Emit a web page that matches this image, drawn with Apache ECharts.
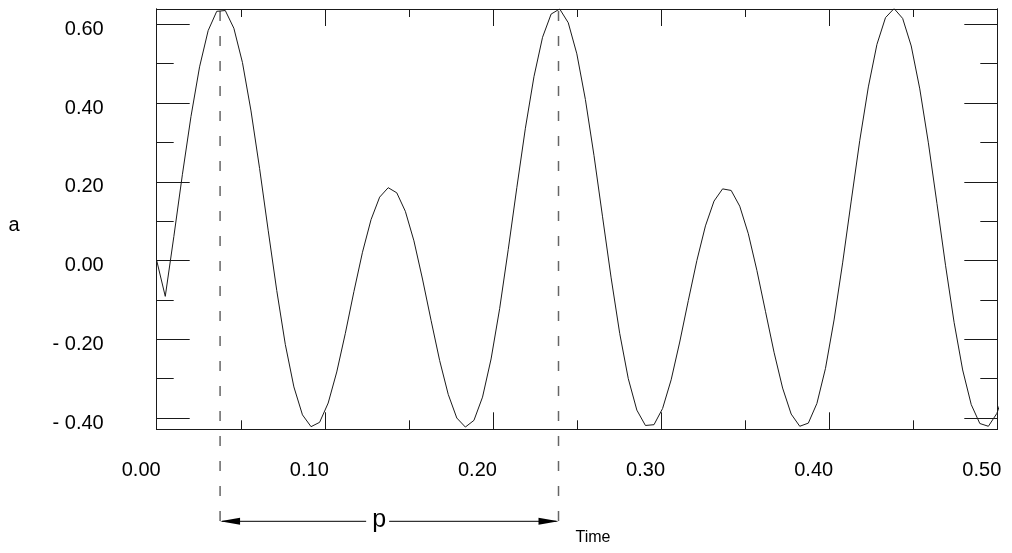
<!DOCTYPE html>
<html>
<head>
<meta charset="utf-8">
<script src="https://cdn.jsdelivr.net/npm/echarts@6/dist/echarts.min.js"></script>
<style>
html,body{margin:0;padding:0;background:#fff;}
#c{width:1012px;height:553px;}
</style>
</head>
<body>
<div id="c"></div>
<script>
// ---- data ----
const times = [
  0.0000,0.0051,0.0102,0.0153,0.0204,0.0255,0.0306,0.0357,0.0408,0.0459,
  0.0510,0.0561,0.0612,0.0663,0.0714,0.0765,0.0816,0.0867,0.0918,0.0969,
  0.1020,0.1071,0.1122,0.1173,0.1224,0.1275,0.1326,0.1377,0.1428,0.1479,
  0.1530,0.1581,0.1632,0.1683,0.1734,0.1785,0.1836,0.1887,0.1938,0.1989,
  0.2040,0.2091,0.2142,0.2193,0.2244,0.2295,0.2346,0.2397,0.2448,0.2499,
  0.2550,0.2601,0.2652,0.2703,0.2754,0.2805,0.2856,0.2907,0.2958,0.3009,
  0.3060,0.3111,0.3162,0.3213,0.3264,0.3315,0.3366,0.3417,0.3468,0.3519,
  0.3570,0.3621,0.3672,0.3723,0.3774,0.3825,0.3876,0.3927,0.3978,0.4029,
  0.4080,0.4131,0.4182,0.4233,0.4284,0.4335,0.4386,0.4437,0.4488,0.4539,
  0.4590,0.4641,0.4692,0.4743,0.4794,0.4845,0.4896,0.4947,0.4998,0.5049,
  0.5100
];
const amplitude = [
  0.000,-0.091,0.061,0.219,0.366,0.492,0.584,0.633,0.635,0.590,
  0.503,0.380,0.234,0.077,-0.076,-0.213,-0.321,-0.392,-0.422,-0.411,
  -0.362,-0.283,-0.185,-0.079,0.021,0.104,0.161,0.185,0.172,0.125,
  0.050,-0.047,-0.152,-0.254,-0.340,-0.400,-0.423,-0.406,-0.347,-0.250,
  -0.122,0.028,0.185,0.336,0.467,0.567,0.626,0.639,0.604,0.525,
  0.409,0.267,0.111,-0.044,-0.185,-0.300,-0.380,-0.419,-0.417,-0.376,
  -0.303,-0.207,-0.102,0.000,0.088,0.151,0.182,0.178,0.138,0.068,
  -0.025,-0.129,-0.233,-0.324,-0.390,-0.421,-0.413,-0.363,-0.274,-0.151,
  -0.006,0.151,0.305,0.441,0.549,0.617,0.640,0.615,0.545,0.436,
  0.299,0.145,-0.012,-0.157,-0.278,-0.366,-0.414,-0.421,-0.388,-0.321,
  -0.229
];
const xMajorTicks = [0, 0.1, 0.2, 0.3, 0.4, 0.5];
const xMinorTicks = [0.05, 0.15, 0.25, 0.35, 0.45];
const yMajorTicks = [-0.4, -0.2, 0, 0.2, 0.4, 0.6];
const yMinorTicks = [-0.3, -0.1, 0.1, 0.3, 0.5];
const xRange = [0, 0.5];
const yRange = [-0.4287, 0.6389];
const periodMarks = [0.0377, 0.2390];   // dashed lines bounding period p
const xTitle = 'Time';
const yTitle = 'a';
const periodLabel = 'p';

// ---- chart ----
const FONT = '"Liberation Sans", Arial, Helvetica, sans-serif';
const INK = '#1a1a1a';
const chart = echarts.init(document.getElementById('c'), null, {renderer: 'canvas'});

function fmt(v) {
  const s = Math.abs(v).toFixed(2);
  return v < -1e-9 ? '- ' + s : s;
}

function xAxisDef(pos, ticks, len, withLabels) {
  return {
    type: 'value', position: pos, min: xRange[0], max: xRange[1],
    axisLine: {show: true, onZero: false, lineStyle: {color: INK, width: 1}},
    axisTick: {show: true, inside: true, length: len, customValues: ticks,
               lineStyle: {color: INK, width: 1}},
    axisLabel: withLabels ? {
      show: true, customValues: ticks, formatter: fmt, color: '#000',
      fontFamily: FONT, fontSize: 20, lineHeight: 20, margin: 31,
      padding: [0, 31, 0, 0]
    } : {show: false},
    splitLine: {show: false}, minorTick: {show: false}
  };
}
function yAxisDef(pos, ticks, len, withLabels) {
  return {
    type: 'value', position: pos, min: yRange[0], max: yRange[1],
    axisLine: {show: true, onZero: false, lineStyle: {color: INK, width: 1}},
    axisTick: {show: true, inside: true, length: len, customValues: ticks,
               lineStyle: {color: INK, width: 1}},
    axisLabel: withLabels ? {
      show: true, customValues: ticks, formatter: fmt, color: '#000',
      fontFamily: FONT, fontSize: 20, lineHeight: 10, verticalAlign: 'top',
      margin: 53
    } : {show: false},
    splitLine: {show: false}, minorTick: {show: false}
  };
}

const xa0 = xAxisDef('bottom', xMajorTicks, 17, true);
xa0.name = xTitle;
xa0.nameLocation = 'middle';
xa0.nameGap = 100;
xa0.nameTextStyle = {fontFamily: FONT, fontSize: 16, color: '#000', padding: [0, 0, 0, 32]};

const ya0 = yAxisDef('left', yMajorTicks, 33, true);
ya0.name = yTitle;
ya0.nameLocation = 'middle';
ya0.nameRotate = 0;
ya0.nameGap = 137;
ya0.nameTextStyle = {fontFamily: FONT, fontSize: 20, color: '#000', verticalAlign: 'top', lineHeight: 12};

chart.setOption({
  animation: false,
  backgroundColor: '#fff',
  grid: {left: 156.7, right: 14.7, top: 9, bottom: 123.7, containLabel: false, outerBoundsMode: 'none'},
  xAxis: [
    xa0,
    xAxisDef('bottom', xMinorTicks, 9, false),
    xAxisDef('top', xMajorTicks, 17, false),
    xAxisDef('top', xMinorTicks, 8, false)
  ],
  yAxis: [
    ya0,
    yAxisDef('left', yMinorTicks, 17, false),
    yAxisDef('right', yMajorTicks, 33, false),
    yAxisDef('right', yMinorTicks, 17, false)
  ],
  series: [{
    type: 'line', xAxisIndex: 0, yAxisIndex: 0,
    data: times.map((t, i) => [t, amplitude[i]]),
    symbol: 'none', showSymbol: false, clip: true,
    lineStyle: {color: INK, width: 1}
  }]
});

// ---- period annotation, positioned through the axes ----
const px = t => chart.convertToPixel({xAxisIndex: 0}, t);
const py = v => chart.convertToPixel({yAxisIndex: 0}, v);
const yTop = py(yRange[1]);
const yBot = py(yRange[0]);
const xA = px(periodMarks[0]);
const xB = px(periodMarks[1]);
const arrowY = yBot + 92;
const dashEnd = yBot + 97;
const pX = xA + 0.47 * (xB - xA);
const head = 20, half = 3.5;
const dashStyle = {stroke: '#666', lineWidth: 1.5, lineDash: [10, 15]};

chart.setOption({
  graphic: [
    {type: 'line', silent: true, shape: {x1: xA, y1: yTop + 2, x2: xA, y2: dashEnd}, style: dashStyle},
    {type: 'line', silent: true, shape: {x1: xB, y1: yTop + 2, x2: xB, y2: dashEnd}, style: dashStyle},
    {type: 'line', silent: true, shape: {x1: xA + 2, y1: arrowY, x2: pX - 13, y2: arrowY}, style: {stroke: '#000', lineWidth: 1}},
    {type: 'line', silent: true, shape: {x1: pX + 10, y1: arrowY, x2: xB - 2, y2: arrowY}, style: {stroke: '#000', lineWidth: 1}},
    {type: 'polygon', silent: true, shape: {points: [[xA, arrowY], [xA + head, arrowY - half], [xA + head, arrowY + half]]}, style: {fill: '#000'}},
    {type: 'polygon', silent: true, shape: {points: [[xB, arrowY], [xB - head, arrowY - half], [xB - head, arrowY + half]]}, style: {fill: '#000'}},
    {type: 'text', silent: true, x: pX, y: arrowY - 1,
     style: {text: periodLabel, fontFamily: FONT, fontSize: 25, fill: '#000', align: 'center', verticalAlign: 'middle'}}
  ]
});
</script>
</body>
</html>
